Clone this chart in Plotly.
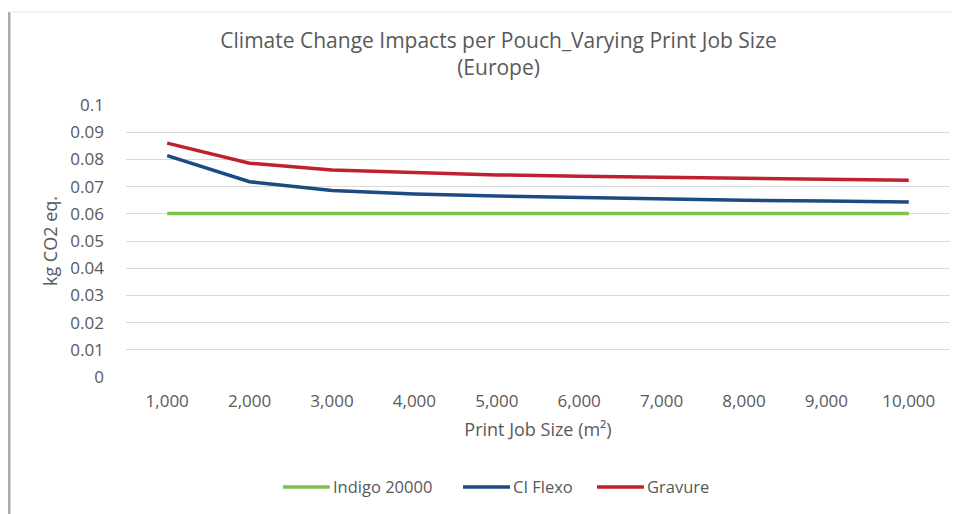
import plotly.graph_objects as go

job_sizes = ["1,000", "2,000", "3,000", "4,000", "5,000", "6,000", "7,000", "8,000", "9,000", "10,000"]
indigo = [0.0601, 0.0601, 0.0601, 0.0601, 0.0601, 0.0601, 0.0601, 0.0601, 0.0601, 0.0601]
ci_flexo = [0.0814, 0.0718, 0.0686, 0.0673, 0.0665, 0.0659, 0.0654, 0.0650, 0.0647, 0.0643]
gravure = [0.0860, 0.0786, 0.0761, 0.0751, 0.0743, 0.0738, 0.0734, 0.0730, 0.0727, 0.0723]
y_ticks = [0, 0.01, 0.02, 0.03, 0.04, 0.05, 0.06, 0.07, 0.08, 0.09, 0.1]
y_tick_text = ["0", "0.01", "0.02", "0.03", "0.04", "0.05", "0.06", "0.07", "0.08", "0.09", "0.1"]
series_names = ["Indigo 20000", "CI Flexo", "Gravure"]
series_colors = ["#7DC24B", "#1C4A82", "#C0202E"]

font = "Open Sans"
grey = "#595959"

fig = go.Figure()
for name, vals, col in zip(series_names, [indigo, ci_flexo, gravure], series_colors):
    fig.add_trace(go.Scatter(x=job_sizes, y=vals, mode="lines", name=name,
                             line=dict(color=col, width=3.5), showlegend=False))

# custom legend (long line keys touching their labels, as in the original)
legend_x = [0.1905, 0.409, 0.5716]
legend_y = -0.404
key_len = 0.057
shapes = [
    dict(type="line", xref="paper", yref="paper", x0=-0.142, x1=-0.142, y0=-0.6, y1=1.342,
         line=dict(color="#AAAAAA", width=3)),
    dict(type="line", xref="paper", yref="paper", x0=-0.142, x1=1.03, y0=1.342, y1=1.342,
         line=dict(color="#E6E6E6", width=1)),
]
annotations = []
for name, col, lx in zip(series_names, series_colors, legend_x):
    shapes.append(dict(type="line", xref="paper", yref="paper", x0=lx, x1=lx + key_len,
                       y0=legend_y, y1=legend_y, line=dict(color=col, width=3.5)))
    annotations.append(dict(text=name, xref="paper", yref="paper", x=lx + key_len + 0.001,
                            y=legend_y, xanchor="left", yanchor="middle", showarrow=False,
                            font=dict(family=font, size=16.5, color=grey)))

fig.update_layout(
    width=960, height=514,
    margin=dict(l=118, r=18, t=97, b=145, autoexpand=False),
    paper_bgcolor="white", plot_bgcolor="white",
    font=dict(family=font, color=grey, size=17),
    title=dict(text="Climate Change Impacts per Pouch_Varying Print Job Size<br>(Europe)",
               x=0.511, xanchor="center", y=0.922, yanchor="top",
               font=dict(family=font, size=21, color=grey)),
    showlegend=False,
    xaxis=dict(type="category", range=[-0.5, 9.5], showgrid=False, zeroline=False,
               showline=False, ticks="", tickfont=dict(size=17, color=grey),
               ticklabelstandoff=12, automargin=False,
               title=dict(text="Print Job Size (m²)", font=dict(size=18, color=grey), standoff=12)),
    yaxis=dict(range=[0, 0.1], tickvals=y_ticks, ticktext=y_tick_text,
               showgrid=True, gridcolor="#D9D9D9", gridwidth=1, zeroline=False,
               showline=False, ticks="", tickfont=dict(size=17, color=grey),
               ticklabelstandoff=21, automargin=False,
               title=dict(text="kg CO2 eq.", font=dict(size=18, color=grey), standoff=8)),
    shapes=shapes,
    annotations=annotations,
)

fig.write_html("out.html")
